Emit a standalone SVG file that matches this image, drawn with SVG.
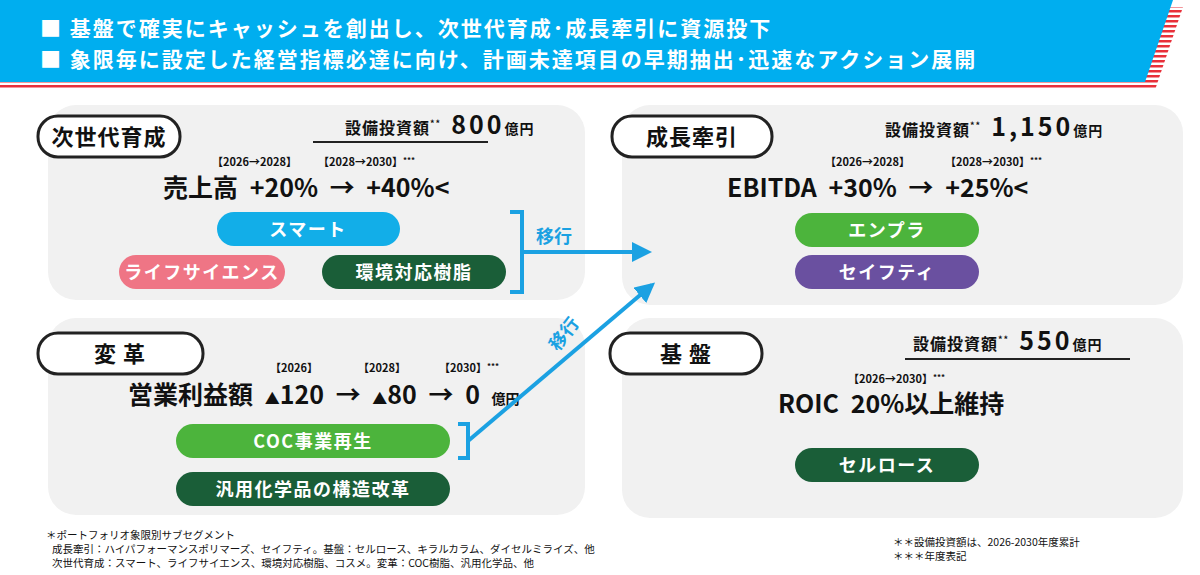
<svg xmlns="http://www.w3.org/2000/svg" width="1200" height="575" viewBox="0 0 1200 575">
<defs>
<style>
text{font-family:"Noto Sans CJK JP","Noto Sans",sans-serif;font-weight:700}
.panel{fill:#f1f1f1}
.tag{fill:#fff;stroke:#222;stroke-width:3}
.tt{font-size:22px;fill:#111;letter-spacing:1px}
.pill{font-size:18px;fill:#fff;text-anchor:middle;letter-spacing:1.5px}
.yr{font-size:11px;fill:#111}
.big{font-size:25px;fill:#111;word-spacing:6px}
.cap{font-size:16px;fill:#111;letter-spacing:1px}
.note{font-size:10.5px;fill:#111;font-weight:400}
</style>
<pattern id="stripes" width="6" height="5" patternUnits="userSpaceOnUse"><rect width="6" height="2.5" fill="#e8303a"/></pattern>
<marker id="ah" viewBox="0 0 10 10" refX="8" refY="5" markerWidth="5" markerHeight="5" orient="auto"><path d="M0,0L10,5L0,10z" fill="#1ba1e2"/></marker>
</defs>
<rect width="1200" height="575" fill="#fff"/>
<g id="banner">
<polygon points="0,7 1183,7 1155,90 0,90" fill="url(#stripes)"/>
<polygon points="0,0 1173,0 1145,82 0,82" fill="#00aeef"/>
<text x="40" y="36" fill="#fff" font-size="21" letter-spacing="2">■ 基盤で確実にキャッシュを創出し、次世代育成･成長牽引に資源投下</text>
<text x="40" y="67" fill="#fff" font-size="21" letter-spacing="2">■ 象限毎に設定した経営指標必達に向け、計画未達項目の早期抽出･迅速なアクション展開</text>
</g>
<g id="next-gen">
<rect class="panel" x="48" y="105" width="537" height="195" rx="28"/>
<rect class="tag" x="38" y="116" width="142" height="41" rx="20"/>
<text class="tt" x="109" y="145" text-anchor="middle">次世代育成</text>
<text class="cap" x="345" y="134">設備投資額<tspan font-size="9" dy="-7">**</tspan><tspan font-size="25" dy="7" dx="10" letter-spacing="3">800</tspan><tspan font-size="14">億円</tspan></text>
<line x1="313" y1="142" x2="488" y2="142" stroke="#222" stroke-width="2"/>
<text class="yr" x="212" y="166">【2026→2028】</text>
<text class="yr" x="318" y="166">【2028→2030】<tspan font-size="8" dy="-3">***</tspan></text>
<text class="big" x="163" y="197">売上高 +20% → +40%&lt;</text>
<rect x="217" y="212" width="183" height="34" rx="17" fill="#12aee8"/>
<text class="pill" x="308" y="236">スマート</text>
<rect x="119" y="255" width="166" height="34" rx="17" fill="#ef7585"/>
<text class="pill" x="202" y="279">ライフサイエンス</text>
<rect x="322" y="255" width="184" height="34" rx="17" fill="#1a5e38"/>
<text class="pill" x="414" y="279">環境対応樹脂</text>
</g>
<g id="reform">
<rect class="panel" x="48" y="318" width="537" height="197" rx="28"/>
<rect class="tag" x="38" y="333" width="165" height="41" rx="20"/>
<text class="tt" x="120" y="362" text-anchor="middle">変 革</text>
<text class="yr" x="270" y="372">【2026】</text>
<text class="yr" x="358" y="372">【2028】</text>
<text class="yr" x="439" y="372">【2030】<tspan font-size="8" dy="-3">***</tspan></text>
<text class="big" x="128" y="404">営業利益額 <tspan font-size="15">▲</tspan>120 → <tspan font-size="15">▲</tspan>80 → 0 <tspan font-size="14">億円</tspan></text>
<rect x="176" y="424" width="274" height="34" rx="17" fill="#4cb43c"/>
<text class="pill" x="313" y="448">COC事業再生</text>
<rect x="176" y="472" width="274" height="34" rx="17" fill="#1a5e38"/>
<text class="pill" x="313" y="496">汎用化学品の構造改革</text>
</g>
<g id="growth">
<rect class="panel" x="622" y="105" width="561" height="200" rx="28"/>
<rect class="tag" x="612" y="116" width="160" height="41" rx="20"/>
<text class="tt" x="692" y="145" text-anchor="middle">成長牽引</text>
<text class="cap" x="885" y="136">設備投資額<tspan font-size="9" dy="-7">**</tspan><tspan font-size="25" dy="7" dx="10" letter-spacing="3">1,150</tspan><tspan font-size="14">億円</tspan></text>
<text class="yr" x="825" y="166">【2026→2028】</text>
<text class="yr" x="945" y="166">【2028→2030】<tspan font-size="8" dy="-3">***</tspan></text>
<text class="big" x="727" y="197">EBITDA +30% → +25%&lt;</text>
<rect x="795" y="213" width="184" height="34" rx="17" fill="#4cb43c"/>
<text class="pill" x="887" y="237">エンプラ</text>
<rect x="795" y="255" width="184" height="34" rx="17" fill="#6a50a0"/>
<text class="pill" x="887" y="279">セイフティ</text>
</g>
<g id="base">
<rect class="panel" x="622" y="318" width="561" height="200" rx="28"/>
<rect class="tag" x="610" y="333" width="152" height="41" rx="20"/>
<text class="tt" x="686" y="362" text-anchor="middle">基 盤</text>
<text class="cap" x="913" y="350">設備投資額<tspan font-size="9" dy="-7">**</tspan><tspan font-size="25" dy="7" dx="10" letter-spacing="3">550</tspan><tspan font-size="14">億円</tspan></text>
<line x1="905" y1="359" x2="1130" y2="359" stroke="#222" stroke-width="2"/>
<text class="yr" x="848" y="383">【2026→2030】<tspan font-size="8" dy="-3">***</tspan></text>
<text class="big" x="778" y="413">ROIC 20%以上維持</text>
<rect x="795" y="448" width="184" height="34" rx="17" fill="#1a5e38"/>
<text class="pill" x="887" y="472">セルロース</text>
</g>
<g id="connectors" fill="none" stroke="#1ba1e2" stroke-width="4">
<path d="M510,212H522V292H510"/>
<path d="M522,252H648" marker-end="url(#ah)"/>
<path d="M458,424H468V458H458"/>
<path d="M468,441L652,285" marker-end="url(#ah)"/>
</g>
<text x="536" y="243" fill="#1ba1e2" font-size="18">移行</text>
<text x="0" y="0" fill="#1ba1e2" font-size="18" transform="translate(558,352) rotate(-52)">移行</text>
<g id="notes">
<text class="note" x="46" y="539">＊ポートフォリオ象限別サブセグメント</text>
<text class="note" x="52" y="553">成長牽引：ハイパフォーマンスポリマーズ、セイフティ。基盤：セルロース、キラルカラム、ダイセルミライズ、他</text>
<text class="note" x="52" y="567">次世代育成：スマート、ライフサイエンス、環境対応樹脂、コスメ。変革：COC樹脂、汎用化学品、他</text>
<text class="note" x="893" y="546">＊＊設備投資額は、2026-2030年度累計</text>
<text class="note" x="893" y="560">＊＊＊年度表記</text>
</g>
</svg>
